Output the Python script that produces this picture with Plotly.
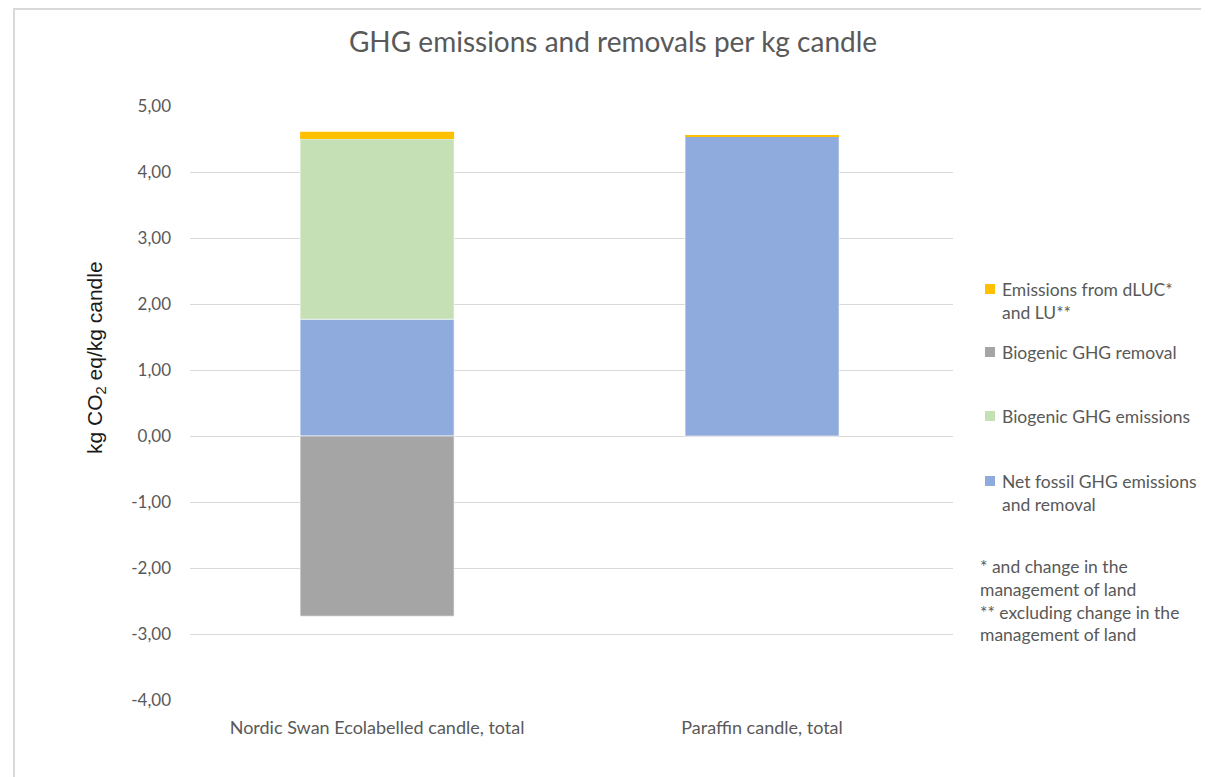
import plotly.graph_objects as go

categories = ["Nordic Swan Ecolabelled candle, total", "Paraffin candle, total"]
net_fossil = [1.77, 4.54]
biogenic_emissions = [2.73, 0.0]
biogenic_removal = [-2.73, 0.0]
dluc_lu = [0.11, 0.015]

series_names = ["Net fossil GHG emissions<br>and removal", "Biogenic GHG emissions",
                "Biogenic GHG removal", "Emissions from dLUC*<br>and LU**"]
series_colors = ["#8FAADC", "#C5E0B4", "#A5A5A5", "#FFC000"]
series_values = [net_fossil, biogenic_emissions, biogenic_removal, dluc_lu]

tick_vals = [5, 4, 3, 2, 1, 0, -1, -2, -3, -4]
tick_text = ["5,00", "4,00", "3,00", "2,00", "1,00", "0,00", "-1,00", "-2,00", "-3,00", "-4,00"]

footnote_lines = ["* and change in the", "management of land",
                  "** excluding change in the", "management of land"]

TXT = "#595959"
FONT = "Lato"

# the page body has an 8px margin; work in reference pixel coords and shift
OFF = 8
W, H = 1209 - OFF, 777 - OFF
L, R, T, B = 190 - OFF, 953 - OFF, 106 - OFF, 700 - OFF


def px(x):
    return (x - OFF - L) / (R - L)


def py(y):
    return (B - (y - OFF)) / (B - T)


fig = go.Figure()
for name, color, vals in zip(series_names, series_colors, series_values):
    lw = 0 if color == "#FFC000" else 1
    fig.add_trace(go.Bar(
        x=categories, y=vals, name=name, width=0.4,
        marker=dict(color=color, line=dict(color="rgba(255,255,255,0.6)", width=lw)),
        showlegend=False,
    ))

fig.update_layout(
    width=W, height=H,
    barmode="relative",
    plot_bgcolor="white", paper_bgcolor="white",
    margin=dict(l=L, r=W - R, t=T, b=H - B, pad=0),
    font=dict(family=FONT, color=TXT, size=16),
    title=dict(text="GHG emissions and removals per kg candle",
               x=(613 - OFF) / W, xanchor="center", y=1 - (42 - OFF) / H, yanchor="middle",
               font=dict(family=FONT, size=28, color=TXT)),
)
fig.update_xaxes(
    type="category", range=[-0.486, 1.496],
    showgrid=False, showline=False, zeroline=False,
    ticks="", ticklabelstandoff=15,
    tickfont=dict(family=FONT, size=18, color=TXT),
)
fig.update_yaxes(
    range=[-4, 5], tickvals=tick_vals, ticktext=tick_text,
    showgrid=True, gridcolor="#D9D9D9", gridwidth=1,
    zeroline=True, zerolinecolor="#D9D9D9", zerolinewidth=1,
    showline=False, ticks="", ticklabelstandoff=18,
    tickfont=dict(family=FONT, size=17, color=TXT),
)

annotations = []
shapes = []

# y-axis title
annotations.append(dict(
    text="kg CO<sub>2</sub> eq/kg candle", textangle=-90,
    x=px(96), y=py(358), xref="paper", yref="paper",
    xanchor="center", yanchor="middle", showarrow=False,
    font=dict(family="Liberation Sans", size=21, color="#1a1a1a"),
))

# custom legend (top-to-bottom order)
legend_order = [3, 2, 1, 0]
legend_y = [289, 352, 416, 481]
for idx, yy in zip(legend_order, legend_y):
    shapes.append(dict(type="rect", xref="paper", yref="paper",
                       x0=px(985), x1=px(995), y0=py(yy + 5), y1=py(yy - 5),
                       fillcolor=series_colors[idx], line=dict(width=0)))
    annotations.append(dict(
        text=series_names[idx], x=px(1000), y=py(yy - 12), xref="paper", yref="paper",
        xanchor="left", yanchor="top", align="left", showarrow=False,
        font=dict(family=FONT, size=17.5, color=TXT),
    ))

# footnote
annotations.append(dict(
    text="<br>".join(footnote_lines), x=px(978), y=py(554), xref="paper", yref="paper",
    xanchor="left", yanchor="top", align="left", showarrow=False,
    font=dict(family=FONT, size=17.5, color=TXT),
))

# outer chart frame
shapes.append(dict(type="rect", xref="paper", yref="paper",
                   x0=px(14), x1=px(1240), y0=py(820), y1=py(OFF + 1),
                   line=dict(color="#D9D9D9", width=2), fillcolor="rgba(0,0,0,0)",
                   layer="below"))

fig.update_layout(annotations=annotations, shapes=shapes)
fig.write_html("out.html")
